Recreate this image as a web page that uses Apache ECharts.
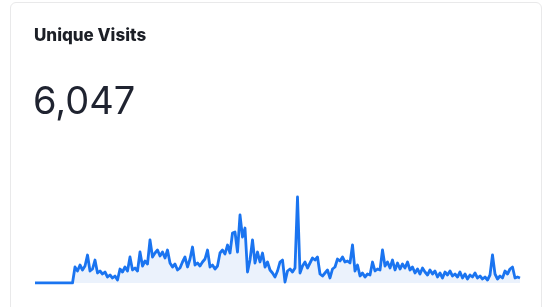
<!DOCTYPE html>
<html>
<head>
<meta charset="utf-8">
<script src="https://cdn.jsdelivr.net/npm/echarts@6/dist/echarts.min.js"></script>
<style>
html,body{margin:0;padding:0;background:#fff;width:547px;height:307px;overflow:hidden;}
#card{position:absolute;left:10px;top:2px;width:532px;height:330px;border:1px solid #e9e9ea;border-radius:6px;box-sizing:border-box;}
#chart{position:absolute;left:0;top:0;width:547px;height:307px;}
</style>
</head>
<body>
<div id="card"></div>
<div id="chart"></div>
<script>
const titleText = "Unique Visits";
const totalText = "6,047";
const visits = [
0,0,0,0,0,0,0,0,0,0,0,0,0,0,0,0,
16,12,18,13,17,28,12,14,23,10,12,9,11,6,8,5,7,3,14,11,16,12,26,13,15,12,31,17,22,19,
43,26,30,33,27,31,25,33,20,16,19,13,15,21,26,16,24,36,18,20,17,21,24,33,16,18,14,17,
30,33,29,38,30,50,51,31,68,46,55,11,23,43,20,31,21,30,16,21,13,10,6,12,21,23,1,12,14,11,15,
86,10,17,21,15,20,25,23,26,9,7,10,13,5,14,16,24,22,26,21,22,20,38,12,18,7,10,6,9,8,21,12,14,13,
33,17,21,15,23,13,20,14,19,15,21,13,16,10,14,9,15,11,8,13,9,12,6,10,5,11,8,12,7,9,6,11,5,9,4,8,
6,10,5,7,4,6,3,8,28,9,4,7,5,12,9,14,16,5,6,5
];
const days = visits.map((v, i) => "d" + (i + 1));

const chart = echarts.init(document.getElementById('chart'), null, {renderer: 'canvas'});
chart.setOption({
  animation: false,
  title: [
    {text: titleText, left: 29, top: 22, padding: 5,
     textStyle: {fontFamily: 'Inter', fontWeight: 800, fontSize: 17, color: '#1c1f26'}},
    {text: totalText, left: 28, top: 79, padding: 5,
     textStyle: {fontFamily: 'Inter', fontWeight: 'normal', fontSize: 38, color: '#1f2330'}}
  ],
  grid: {left: 35, right: 27, top: 183, bottom: 24},
  xAxis: {type: 'category', data: days, boundaryGap: false, show: false},
  yAxis: {type: 'value', min: 0, max: 100, show: false},
  series: [{
    type: 'line', data: visits, symbol: 'none', smooth: false,
    lineStyle: {color: '#1a74f0', width: 2.8, join: 'round'},
    areaStyle: {color: '#e2edfb'}
  }]
});
</script>
</body>
</html>
